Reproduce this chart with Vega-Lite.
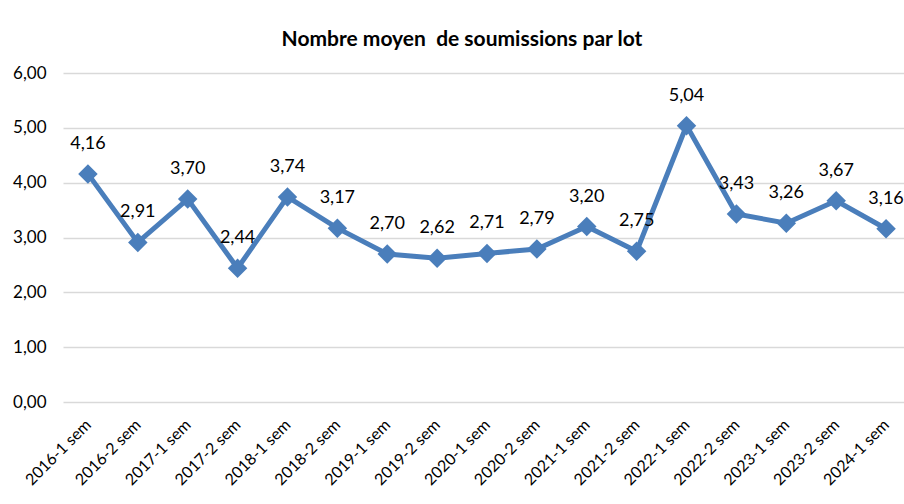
{
  "$schema": "https://vega.github.io/schema/vega-lite/v6.json",
  "autosize": "none",
  "width": 848,
  "height": 329,
  "padding": {"left": 63, "top": 73, "right": 0, "bottom": 102},
  "background": "white",
  "config": {
    "locale": {"number": {"decimal": ",", "thousands": " ", "grouping": [3], "currency": ["", " €"]}},
    "view": {"stroke": null},
    "font": "Lato"
  },
  "title": {
    "text": "Nombre moyen\u00a0 de soumissions par lot",
    "fontSize": 21,
    "fontWeight": "bold",
    "font": "Lato",
    "color": "#000000",
    "anchor": "middle",
    "dx": -25,
    "offset": 14
  },
  "data": {
    "values": [
      {"periode": "2016-1 sem", "valeur": 4.16},
      {"periode": "2016-2 sem", "valeur": 2.91},
      {"periode": "2017-1 sem", "valeur": 3.70},
      {"periode": "2017-2 sem", "valeur": 2.44},
      {"periode": "2018-1 sem", "valeur": 3.74},
      {"periode": "2018-2 sem", "valeur": 3.17},
      {"periode": "2019-1 sem", "valeur": 2.70},
      {"periode": "2019-2 sem", "valeur": 2.62},
      {"periode": "2020-1 sem", "valeur": 2.71},
      {"periode": "2020-2 sem", "valeur": 2.79},
      {"periode": "2021-1 sem", "valeur": 3.20},
      {"periode": "2021-2 sem", "valeur": 2.75},
      {"periode": "2022-1 sem", "valeur": 5.04},
      {"periode": "2022-2 sem", "valeur": 3.43},
      {"periode": "2023-1 sem", "valeur": 3.26},
      {"periode": "2023-2 sem", "valeur": 3.67},
      {"periode": "2024-1 sem", "valeur": 3.16}
    ]
  },
  "encoding": {
    "x": {
      "field": "periode",
      "type": "nominal",
      "sort": null,
      "scale": {"paddingInner": 0, "paddingOuter": 0.5},
      "axis": {
        "title": null,
        "labelAngle": -45,
        "labelAlign": "right",
        "labelBaseline": "middle",
        "labelFontSize": 16,
        "labelColor": "#000000",
        "labelPadding": 20,
        "labelOverlap": false,
        "ticks": false,
        "domain": false,
        "grid": false
      }
    },
    "y": {
      "field": "valeur",
      "type": "quantitative",
      "scale": {"domain": [0, 6]},
      "axis": {
        "title": null,
        "values": [0, 1, 2, 3, 4, 5, 6],
        "format": ".2f",
        "labelFontSize": 17,
        "labelColor": "#000000",
        "labelPadding": 17,
        "labelOverlap": false,
        "ticks": false,
        "domain": false,
        "gridColor": "#d9d9d9",
        "gridWidth": 1.5
      }
    }
  },
  "layer": [
    {
      "mark": {"type": "line", "color": "#4a7ebb", "strokeWidth": 5}
    },
    {
      "mark": {"type": "point", "shape": "diamond", "filled": true, "color": "#4a7ebb", "size": 380, "opacity": 1}
    },
    {
      "mark": {"type": "text", "dy": -30, "fontSize": 18, "color": "#000000", "font": "Lato"},
      "encoding": {"text": {"field": "valeur", "type": "quantitative", "format": ".2f"}}
    }
  ]
}
